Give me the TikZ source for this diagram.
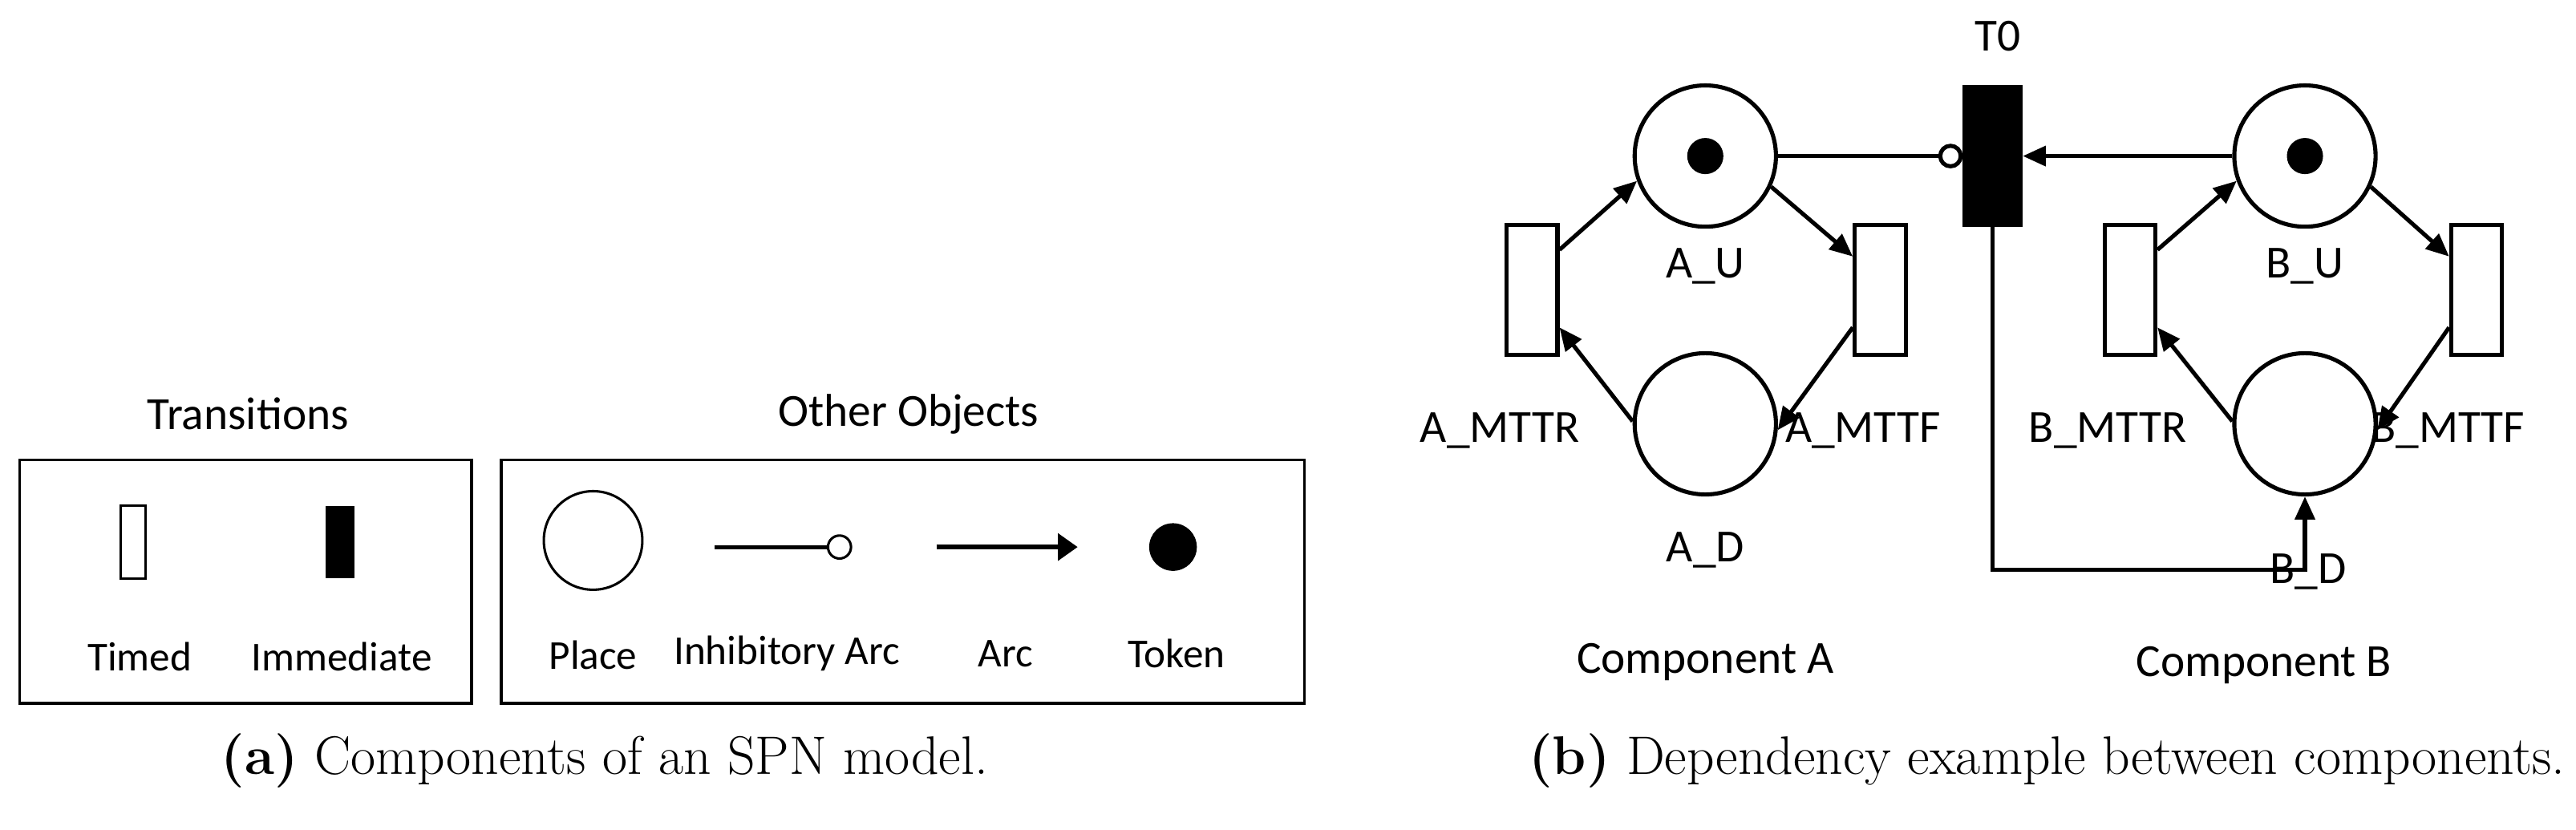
\documentclass[tikz,border=0pt]{standalone}
\usepackage{fontspec}
\newfontfamily\lbl{Carlito}
\usetikzlibrary{arrows.meta,calc}
\begin{document}
\begin{tikzpicture}[x=1pt,y=-1pt,line width=2.5pt,
 txt/.style={font=\lbl\fontsize{28}{30}\selectfont,inner sep=0},
 small/.style={font=\lbl\fontsize{25}{27}\selectfont,inner sep=0},
 captext/.style={font=\fontsize{33}{36}\selectfont,inner sep=0},
 place/.style={circle,draw,minimum size=86pt,inner sep=0},
 timed/.style={draw,fill=white,minimum width=31pt,minimum height=79pt,inner sep=0},
 imm/.style={draw,fill=black,minimum width=34pt,minimum height=84pt,inner sep=0},
 tok/.style={circle,fill=black,minimum size=22pt,inner sep=0},
 arr/.style={-{Triangle[length=14pt,width=12pt]}},
 inh/.style={-{Circle[open,length=15pt,width=15pt,fill=white]}}]
\useasboundingbox (0,0) rectangle (1568,505);
% ---- (a)
\node[draw,minimum width=275pt,minimum height=148pt,line width=1.8pt] (boxT) at (149.5,354) {};
\node[draw,minimum width=489pt,minimum height=148pt,line width=1.8pt] (boxO) at (549.5,354) {};
\node[txt] (tT) at (151,252) {Transitions};
\node[txt] (tO) at (553,252) {Other Objects};
\node[draw,line width=1.5pt,minimum width=15pt,minimum height=44pt,inner sep=0] (sTimed) at (81,330) {};
\node[fill=black,minimum width=18pt,minimum height=44pt,inner sep=0] (sImm) at (207,330) {};
\node[small] (lTimed) at (85,400) {Timed};
\node[small] (lImm) at (208,400) {Immediate};
\node[circle,draw,line width=1.5pt,minimum size=60pt,inner sep=0] (sPlace) at (361,329) {};
\coordinate (iA) at (435,333);
\node[circle,draw,line width=1.5pt,fill=white,minimum size=14pt,inner sep=0] (iC) at (511,333) {};
\draw[line width=2.5pt] (iA) -- (iC);
\coordinate (aA) at (570,333);
\coordinate (aB) at (656,333);
\draw[line width=3pt,-{Triangle[length=12pt,width=16pt]}] (aA) -- (aB);
\node[circle,fill=black,minimum size=29pt,inner sep=0] (sTok) at (714,333) {};
\node[small] (lPlace) at (361,399) {Place};
\node[small] (lInh) at (479,398) {Inhibitory Arc};
\node[small] (lArc) at (612,398) {Arc};
\node[small] (lTok) at (716,398) {Token};
\node[captext] (capA) at (368,463) {\textbf{(a)} Components of an SPN model.};
% ---- (b)
\node[place] (AU) at (1038,95) {};
\node[tok] at (AU) {};
\node[place] (AD) at (1038,258) {};
\node[place] (BU) at (1403,95) {};
\node[tok] at (BU) {};
\node[place] (BD) at (1403,258) {};
\node[timed] (AR) at (932.5,176.5) {};
\node[timed] (AF) at (1144.5,176.5) {};
\node[timed] (BR) at (1296.5,176.5) {};
\node[timed] (BF) at (1507.5,176.5) {};
\node[imm] (T0) at (1213,95) {};
\node[txt] at (1216,22) {T0};
\node[txt] at (1038,162) {A\_U};
\node[txt] at (1038,335) {A\_D};
\node[txt] at (913,262) {A\_MTTR};
\node[txt] at (1134,262) {A\_MTTF};
\node[txt] at (1403,162) {B\_U};
\node[txt] at (1283,262) {B\_MTTR};
\node[txt] at (1490,262) {B\_MTTF};
\node[txt] (lBD) at (1405,348) {B\_D};
\node[txt] at (1038,403) {Component A};
\node[txt] at (1378,405) {Component B};
\node[captext] (capB) at (1246,463) {\textbf{(b)} Dependency example between components.};
\draw[arr] ($(AR.north east)!0.2!(AR.south east)$) -- (AU.200);
\draw[arr] (AU.-25) -- ($(AF.north west)!0.25!(AF.south west)$);
\draw[arr] ($(AF.north west)!0.78!(AF.south west)$) -- (AD.-5);
\draw[arr] (AD.178) -- ($(AR.north east)!0.78!(AR.south east)$);
\draw[arr] ($(BR.north east)!0.2!(BR.south east)$) -- (BU.200);
\draw[arr] (BU.-25) -- ($(BF.north west)!0.25!(BF.south west)$);
\draw[arr] ($(BF.north west)!0.78!(BF.south west)$) -- (BD.-5);
\draw[arr] (BD.178) -- ($(BR.north east)!0.78!(BR.south east)$);
\draw[inh] (AU.east) -- (T0.west);
\draw[arr] (BU.west) -- (T0.east);
\coordinate (corner) at (1213,347);
\draw[arr] (T0.south) -- (corner) -| (BD.south);
\end{tikzpicture}
\end{document}
